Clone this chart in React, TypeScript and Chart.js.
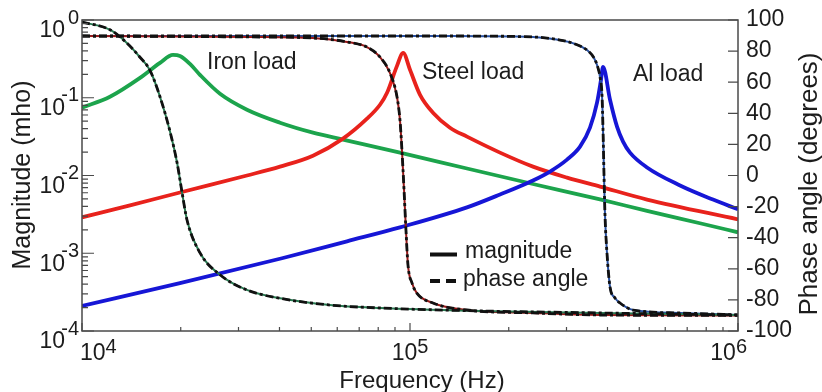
import React, { useEffect, useRef } from "react";
import { Chart, registerables } from "chart.js";

Chart.register(...registerables);

// ---------------- data ----------------
// Magnitude (mho) vs frequency (Hz)
const ironMagFreq = [10000, 12170, 15030, 17290, 18940, 19890, 21340, 22890, 26350, 31840, 40150, 50610, 62480, 93220, 149200, 237100, 379600, 528000, 765600, 1000000];
const ironMag = [0.0744, 0.103, 0.18, 0.281, 0.356, 0.345, 0.273, 0.197, 0.1125, 0.0702, 0.0478, 0.0356, 0.029, 0.0197, 0.0123, 0.00778, 0.00492, 0.00351, 0.00243, 0.00186];

const steelMagFreq = [10000, 14010, 19890, 31840, 40150, 50610, 62480, 73940, 81000, 85120, 91280, 95300, 100000, 107300, 117500, 132400, 149200, 188100, 237100, 301100, 379600, 528000, 1000000];
const steelMag = [0.0029, 0.00412, 0.00605, 0.01, 0.013, 0.018, 0.0298, 0.0538, 0.0813, 0.116, 0.257, 0.378, 0.229, 0.109, 0.0642, 0.0412, 0.0316, 0.0197, 0.013, 0.0094, 0.0072, 0.0049, 0.00273];

const alMagFreq = [10000, 19890, 40720, 64270, 93220, 149200, 188100, 237100, 267200, 301100, 329900, 353800, 371700, 382200, 387700, 407200, 427700, 446200, 468500, 528000, 665800, 839000, 1000000];
const alMag = [0.00021, 0.000412, 0.000863, 0.001425, 0.00215, 0.00389, 0.0057, 0.00863, 0.01125, 0.016, 0.0235, 0.0412, 0.0863, 0.17, 0.25, 0.0942, 0.0425, 0.0273, 0.0197, 0.0127, 0.00745, 0.0049, 0.00367];

// Phase angle (degrees) vs frequency (Hz)
const ironPhaseFreq = [10000, 12200, 13700, 15000, 16100, 17300, 18600, 19500, 20200, 20900, 22900, 26400, 31800, 40200, 57000, 81000, 163500, 380000, 1000000];
const ironPhase = [98.7, 93.6, 85.2, 76.2, 67.8, 50.5, 27.3, 8.0, -11.3, -28.6, -49.8, -64.0, -73.6, -79.0, -83.3, -85.2, -87.1, -88.4, -89.7];

const steelPhaseFreq = [10000, 32500, 50600, 64300, 73900, 81000, 86900, 91300, 93200, 94500, 95900, 97200, 98600, 101400, 104900, 117500, 149200, 237100, 379600, 1000000];
const steelPhase = [89.7, 89.1, 88.4, 85.9, 82.6, 76.2, 65.9, 50.5, 35.7, 16.4, -9.3, -35.0, -57.6, -69.1, -75.6, -82.0, -86.5, -88.4, -89.7, -90];

const alPhaseFreq = [10000, 132400, 237100, 286600, 318400, 346400, 363900, 374400, 379600, 384900, 387700, 390400, 393100, 398600, 407200, 421700, 436800, 478600, 665800, 1000000];
const alPhase = [89.7, 89.7, 89.1, 87.1, 84.6, 80.7, 75.6, 69.1, 63.3, 51.8, 29.3, 0.3, -25.4, -49.8, -71.7, -78.8, -82.0, -86.5, -88.4, -89.7];

// Labels and ticks
const seriesNames = ["Iron load", "Steel load", "Al load"];
const legendLabels = ["magnitude", "phase angle"];
const magTickExps = [0, -1, -2, -3, -4];
const freqTickExps = [4, 5, 6];
const phaseTicks = [100, 80, 60, 40, 20, 0, -20, -40, -60, -80, -100];
const xTitle = "Frequency (Hz)";
const yLeftTitle = "Magnitude (mho)";
const yRightTitle = "Phase angle (degrees)";

// ---------------- styling ----------------
const FONT = '"Liberation Sans", Arial, Helvetica, sans-serif';
const TEXT = "#1c1c1c";
const AXIS = "#4a4a4a";
const GREEN = "rgb(28,164,76)";
const RED = "rgb(232,34,28)";
const BLUE = "rgb(22,22,214)";
const GREEN_DARK = "rgb(40,120,80)";
const RED_DARK = "rgb(150,25,25)";
const BLUE_DARK = "rgb(40,80,160)";

// label anchors (frequency, magnitude) for the curve names
const nameAnchors = [
  { f: 24050, m: 0.235 },
  { f: 108800, m: 0.175 },
  { f: 478600, m: 0.165 },
];

const toPoints = (xs: number[], ys: number[]) => xs.map((x, i) => ({ x, y: ys[i] }));

const magLine = (data: any[], color: string) => ({
  data,
  yAxisID: "yMag",
  borderColor: color,
  backgroundColor: color,
  borderWidth: 3.8,
  pointRadius: 0,
  fill: false,
  cubicInterpolationMode: "monotone" as const,
  borderJoinStyle: "round" as const,
});

const phaseUnder = (data: any[], color: string) => ({
  data,
  yAxisID: "yPhase",
  borderColor: color,
  borderWidth: 2,
  pointRadius: 0,
  fill: false,
  cubicInterpolationMode: "monotone" as const,
});

const phaseDash = (data: any[]) => ({
  data,
  yAxisID: "yPhase",
  borderColor: "#111",
  borderWidth: 2.8,
  borderDash: [8, 3, 3, 3],
  pointRadius: 0,
  fill: false,
  cubicInterpolationMode: "monotone" as const,
});

const decor = {
  id: "decor",
  afterDatasetsDraw(chart: any) {
    const { ctx, chartArea: a, scales } = chart;
    const xs = scales.x;
    const ym = scales.yMag;
    const yp = scales.yPhase;
    ctx.save();

    // frame
    ctx.strokeStyle = AXIS;
    ctx.lineWidth = 1.5;
    ctx.strokeRect(a.left, a.top, a.right - a.left, a.bottom - a.top);

    // ticks (inward)
    ctx.lineWidth = 1.2;
    ctx.beginPath();
    for (const e of magTickExps) {
      const y = ym.getPixelForValue(Math.pow(10, e));
      ctx.moveTo(a.left, y);
      ctx.lineTo(a.left + 12, y);
    }
    for (let e = -4; e < 0; e++) {
      for (let m = 2; m <= 9; m++) {
        const y = ym.getPixelForValue(m * Math.pow(10, e));
        ctx.moveTo(a.left, y);
        ctx.lineTo(a.left + 6, y);
      }
    }
    for (const e of freqTickExps) {
      const x = xs.getPixelForValue(Math.pow(10, e));
      ctx.moveTo(x, a.bottom);
      ctx.lineTo(x, a.bottom - 8);
    }
    for (let e = 4; e < 6; e++) {
      for (let m = 2; m <= 9; m++) {
        const x = xs.getPixelForValue(m * Math.pow(10, e));
        ctx.moveTo(x, a.bottom);
        ctx.lineTo(x, a.bottom - 4);
      }
    }
    for (const v of phaseTicks) {
      const y = yp.getPixelForValue(v);
      ctx.moveTo(a.right, y);
      ctx.lineTo(a.right - 10, y);
    }
    ctx.stroke();

    ctx.fillStyle = TEXT;
    const base = `23px ${FONT}`;
    const sup = `20px ${FONT}`;

    // left tick labels 10^e
    ctx.textBaseline = "middle";
    for (const e of magTickExps) {
      const y = ym.getPixelForValue(Math.pow(10, e));
      ctx.font = base;
      ctx.textAlign = "right";
      ctx.fillText("10", a.left - 17, y + 11);
      ctx.font = sup;
      ctx.fillText(String(e), a.left - 3, y - 2);
    }

    // bottom tick labels 10^e
    ctx.textAlign = "left";
    freqTickExps.forEach((e, i) => {
      const x = xs.getPixelForValue(Math.pow(10, e));
      ctx.font = base;
      const wb = ctx.measureText("10").width;
      ctx.font = sup;
      const we = ctx.measureText(String(e)).width;
      const total = wb + we;
      let start = x - total / 2;
      if (i === 0) start = x - 2;
      if (i === freqTickExps.length - 1) start = x + 9 - total;
      ctx.font = base;
      ctx.fillText("10", start, a.bottom + 23);
      ctx.font = sup;
      ctx.fillText(String(e), start + wb, a.bottom + 16);
    });

    // right tick labels
    ctx.font = base;
    ctx.textAlign = "left";
    for (const v of phaseTicks) {
      const y = yp.getPixelForValue(v);
      ctx.fillText(String(v), a.right + 8, y);
    }

    // axis titles
    ctx.textAlign = "center";
    ctx.textBaseline = "alphabetic";
    ctx.font = `24px ${FONT}`;
    ctx.fillText(xTitle, (a.left + a.right) / 2 + 12, 388);

    ctx.textBaseline = "middle";
    ctx.save();
    ctx.translate(23, 175);
    ctx.rotate(-Math.PI / 2);
    ctx.font = `25px ${FONT}`;
    ctx.fillText(yLeftTitle, 0, 0);
    ctx.restore();

    ctx.save();
    ctx.translate(810, 184);
    ctx.rotate(-Math.PI / 2);
    ctx.font = `26px ${FONT}`;
    ctx.fillText(yRightTitle, 0, 0);
    ctx.restore();

    // curve names
    ctx.font = `23px ${FONT}`;
    ctx.textAlign = "left";
    ctx.textBaseline = "alphabetic";
    seriesNames.forEach((name, i) => {
      const p = nameAnchors[i];
      ctx.fillText(name, xs.getPixelForValue(p.f), ym.getPixelForValue(p.m));
    });

    // legend
    ctx.strokeStyle = "#111";
    ctx.lineWidth = 4;
    ctx.setLineDash([]);
    ctx.beginPath();
    ctx.moveTo(430, 254.5);
    ctx.lineTo(457, 254.5);
    ctx.stroke();
    ctx.setLineDash([10, 6]);
    ctx.beginPath();
    ctx.moveTo(430, 281);
    ctx.lineTo(457, 281);
    ctx.stroke();
    ctx.setLineDash([]);
    ctx.fillText(legendLabels[0], 465, 258);
    ctx.fillText(legendLabels[1], 463, 286);

    ctx.restore();
  },
};

export default function App() {
  const ref = useRef<HTMLCanvasElement | null>(null);

  useEffect(() => {
    if (!ref.current) return;
    const chart = new Chart(ref.current, {
      type: "line",
      data: {
        datasets: [
          phaseDash(toPoints(ironPhaseFreq, ironPhase)),
          phaseDash(toPoints(steelPhaseFreq, steelPhase)),
          phaseDash(toPoints(alPhaseFreq, alPhase)),
          phaseUnder(toPoints(ironPhaseFreq, ironPhase), GREEN_DARK),
          phaseUnder(toPoints(steelPhaseFreq, steelPhase), RED_DARK),
          phaseUnder(toPoints(alPhaseFreq, alPhase), BLUE_DARK),
          magLine(toPoints(alMagFreq, alMag), BLUE),
          magLine(toPoints(steelMagFreq, steelMag), RED),
          magLine(toPoints(ironMagFreq, ironMag), GREEN),
        ] as any,
      },
      options: {
        animation: false,
        responsive: false,
        devicePixelRatio: 1,
        layout: { padding: { left: 82, right: 84, top: 20, bottom: 61 } },
        plugins: { legend: { display: false }, tooltip: { enabled: false } },
        scales: {
          x: { type: "logarithmic", min: 1e4, max: 1e6, display: false },
          yMag: { type: "logarithmic", position: "left", min: 1e-4, max: 1, display: false },
          yPhase: { type: "linear", position: "right", min: -100, max: 100, display: false },
        },
      } as any,
      plugins: [decor],
    });
    return () => chart.destroy();
  }, []);

  return (
    <div style={{ position: "fixed", left: 0, top: 0, width: 822, height: 392, background: "#fff" }}>
      <canvas ref={ref} width={822} height={392} style={{ display: "block" }} />
    </div>
  );
}
